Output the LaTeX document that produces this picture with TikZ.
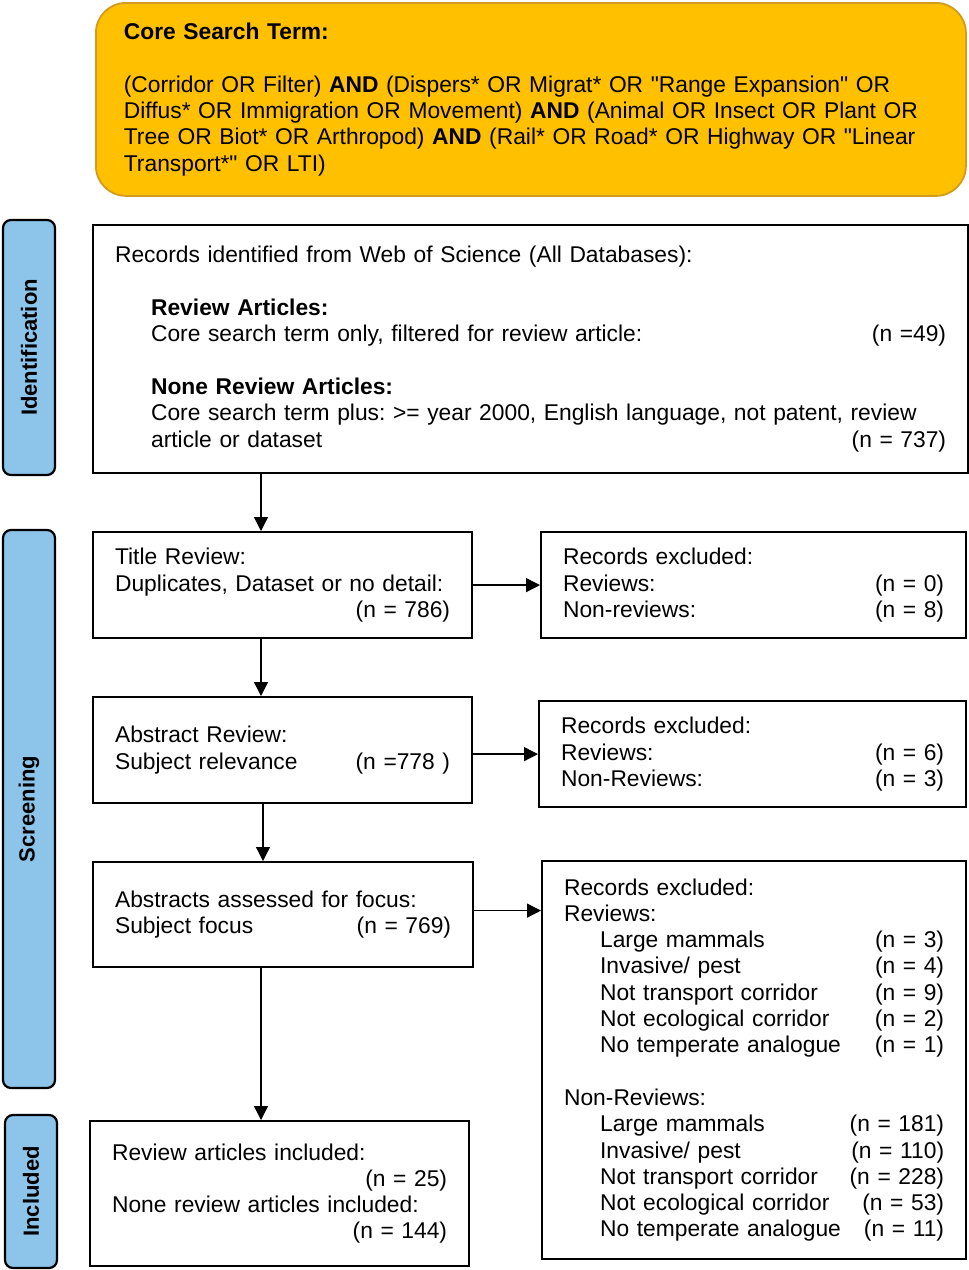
\documentclass[tikz,border=0pt]{standalone}
\usepackage{fontspec}
\setmainfont{Liberation Sans}[Ligatures=TeXOff]
\usepackage{tikz}
\usetikzlibrary{arrows.meta}
\definecolor{coregold}{HTML}{FFC000}
\definecolor{coreedge}{HTML}{D39B1E}
\definecolor{barblue}{HTML}{8DC4EA}
\frenchspacing
\tikzset{
  every node/.style={font=\fontsize{22.8}{26.3}\selectfont},
  stagebox/.style={draw,line width=2.2pt,anchor=north west,align=left,
    inner xsep=22pt,inner ysep=0pt},
  corebox/.style={stagebox,fill=coregold,draw=coreedge,line width=1.8pt,
    rounded corners=30pt,inner xsep=28pt},
  sidebar/.style={draw,line width=2.2pt,fill=barblue,rounded corners=8pt,
    rotate=90,minimum height=52pt,inner sep=0pt,
    font=\fontsize{22}{26}\selectfont\bfseries},
  flow/.style={line width=1.3pt,-{Triangle[width=14pt,length=14pt]}},
}
\newcommand{\ind}{\hspace*{36pt}}
\begin{document}
\begin{tikzpicture}[x=1pt,y=-1pt]
\useasboundingbox (0,0) rectangle (969,1270);
\node[corebox,text width=814pt,minimum height=193pt] (core) at (95,2)
  {\textbf{Core Search Term:}\\[26.3pt]
   (Corridor OR Filter) \textbf{AND} (Dispers* OR Migrat* OR "Range Expansion" OR\\
   Diffus* OR Immigration OR Movement) \textbf{AND} (Animal OR Insect OR Plant OR\\
   Tree OR Biot* OR Arthropod) \textbf{AND} (Rail* OR Road* OR Highway OR "Linear\\
   Transport*" OR LTI)};
\node[sidebar,minimum width=255pt] (idbar) at (29,347.5) {Identification};
\node[sidebar,minimum width=558pt] (scbar) at (29,809) {Screening};
\node[sidebar,minimum width=153pt] (inbar) at (31,1191.5) {Included};
\node[stagebox,text width=831pt,minimum height=248pt] (ident) at (92,224)
  {Records identified from Web of Science (All Databases):\\[26.3pt]
   \ind\textbf{Review Articles:}\\
   \ind Core search term only, filtered for review article:\hfill(n =49)\\[26.3pt]
   \ind\textbf{None Review Articles:}\\
   \ind Core search term plus: >= year 2000, English language, not patent, review\\
   \ind article or dataset\hfill(n = 737)};
\node[stagebox,text width=335pt,minimum height=106pt] (title) at (92,531)
  {Title Review:\\
   Duplicates, Dataset or no detail:\\
   \hfill(n = 786)};
\node[stagebox,text width=381pt,minimum height=106pt] (titleexcl) at (540,531)
  {Records excluded:\\
   Reviews:\hfill(n = 0)\\
   Non-reviews:\hfill(n = 8)};
\node[stagebox,text width=335pt,minimum height=106pt] (abstr) at (92,696)
  {Abstract Review:\\
   Subject relevance\hfill(n =778 )};
\node[stagebox,text width=383pt,minimum height=106pt] (abstrexcl) at (538,700)
  {Records excluded:\\
   Reviews:\hfill(n = 6)\\
   Non-Reviews:\hfill(n = 3)};
\node[stagebox,text width=336pt,minimum height=105pt] (focus) at (92,861)
  {Abstracts assessed for focus:\\
   Subject focus\hfill(n = 769)};
\node[stagebox,text width=380pt,minimum height=398pt] (focusexcl) at (541,860)
  {Records excluded:\\
   Reviews:\\
   \ind Large mammals\hfill(n = 3)\\
   \ind Invasive/ pest\hfill(n = 4)\\
   \ind Not transport corridor\hfill(n = 9)\\
   \ind Not ecological corridor\hfill(n = 2)\\
   \ind No temperate analogue\hfill(n = 1)\\[26.3pt]
   Non-Reviews:\\
   \ind Large mammals\hfill(n = 181)\\
   \ind Invasive/ pest\hfill(n = 110)\\
   \ind Not transport corridor\hfill(n = 228)\\
   \ind Not ecological corridor\hfill(n = 53)\\
   \ind No temperate analogue\hfill(n = 11)};
\node[stagebox,text width=335pt,minimum height=145pt] (incl) at (89,1120)
  {Review articles included:\\
   \hfill(n = 25)\\
   None review articles included:\\
   \hfill(n = 144)};
\coordinate (spine) at (261,0);
\coordinate (spineb) at (263,0);
\draw[flow] (ident.south -| spine) -- (title.north -| spine);
\draw[flow] (title.south -| spine) -- (abstr.north -| spine);
\draw[flow] (abstr.south -| spineb) -- (focus.north -| spineb);
\draw[flow] (focus.south -| spine) -- (incl.north -| spine);
\draw[flow] (title.east) -- (title.east -| titleexcl.west);
\draw[flow] (abstrexcl.west -| abstr.east) -- (abstrexcl.west);
\draw[flow] ([yshift=4pt]focus.east) -- ([yshift=4pt]focus.east -| focusexcl.west);
\end{tikzpicture}
\end{document}
